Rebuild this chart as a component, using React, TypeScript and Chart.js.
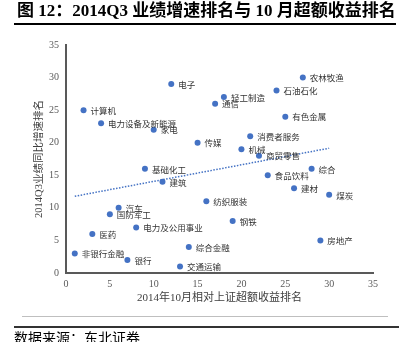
import React, { useEffect, useRef } from "react";
import { Chart, registerables } from "chart.js";

Chart.register(...registerables);

const industries = [
  "非银行金融", "计算机", "医药", "电力设备及新能源", "国防军工", "汽车", "银行", "电力及公用事业",
  "基础化工", "家电", "建筑", "电子", "交通运输", "综合金融", "传媒", "纺织服装",
  "通信", "轻工制造", "钢铁", "机械", "消费者服务", "商贸零售", "食品饮料", "石油石化",
  "有色金属", "建材", "农林牧渔", "综合", "房地产", "煤炭",
];
const excessReturnRank = [
  1, 2, 3, 4, 5, 6, 7, 8, 9, 10, 11, 12, 13, 14, 15, 16,
  17, 18, 19, 20, 21, 22, 23, 24, 25, 26, 27, 28, 29, 30,
];
const growthRank = [
  3, 25, 6, 23, 9, 10, 2, 7, 16, 22, 14, 29, 1, 4, 20, 11,
  26, 27, 8, 19, 21, 18, 15, 28, 24, 13, 30, 16, 5, 12,
];

const chartTitle = "图 12：2014Q3 业绩增速排名与 10 月超额收益排名";
const xTitle = "2014年10月相对上证超额收益排名";
const yTitle = "2014Q3业绩同比增速排名";
const sourceText = "数据来源：东北证券";
const axisMin = 0;
const axisMax = 35;
const axisStep = 5;

const BLUE = "#4472C4";
const SERIF = "'Liberation Serif', 'Noto Sans CJK SC', serif";
const CJK = "'Noto Sans CJK SC', sans-serif";

function linearFit(xs: number[], ys: number[]) {
  const n = xs.length;
  const mx = xs.reduce((a, b) => a + b, 0) / n;
  const my = ys.reduce((a, b) => a + b, 0) / n;
  let sxy = 0;
  let sxx = 0;
  for (let i = 0; i < n; i++) {
    sxy += (xs[i] - mx) * (ys[i] - my);
    sxx += (xs[i] - mx) * (xs[i] - mx);
  }
  const slope = sxy / sxx;
  return { slope, intercept: my - slope * mx };
}

const pointLabels = {
  id: "pointLabels",
  afterDatasetsDraw(chart: any) {
    const meta = chart.getDatasetMeta(0);
    const ctx = chart.ctx;
    ctx.save();
    ctx.font = `8.5px ${CJK}`;
    ctx.fillStyle = "#333333";
    ctx.textBaseline = "middle";
    ctx.textAlign = "left";
    meta.data.forEach((el: any, i: number) => {
      ctx.fillText(industries[i], el.x + 7, el.y + 0.5);
    });
    ctx.restore();
  },
};

export default function App() {
  const ref = useRef<HTMLCanvasElement | null>(null);

  useEffect(() => {
    if (!ref.current) return;
    const pts = excessReturnRank.map((x, i) => ({ x, y: growthRank[i] }));
    const fit = linearFit(excessReturnRank, growthRank);
    const xMin = Math.min(...excessReturnRank);
    const xMax = Math.max(...excessReturnRank);
    const trend = [
      { x: xMin, y: fit.intercept + fit.slope * xMin },
      { x: xMax, y: fit.intercept + fit.slope * xMax },
    ];
    const chart = new Chart(ref.current, {
      type: "scatter",
      data: {
        datasets: [
          {
            data: pts,
            backgroundColor: BLUE,
            borderColor: BLUE,
            pointRadius: 3,
            pointBorderWidth: 0,
          },
          {
            type: "line",
            data: trend,
            borderColor: BLUE,
            borderWidth: 1.5,
            borderDash: [1.5, 1.5],
            pointRadius: 0,
            fill: false,
          } as any,
        ],
      },
      options: {
        animation: false,
        responsive: false,
        devicePixelRatio: 1,
        layout: { padding: { top: 45, right: 26, bottom: 0, left: 0 } },
        plugins: {
          legend: { display: false },
          tooltip: { enabled: false },
        },
        scales: {
          x: {
            type: "linear",
            min: axisMin,
            max: axisMax,
            grid: { display: false, drawTicks: false },
            border: { display: true, color: "#595959", width: 2 },
            ticks: {
              stepSize: axisStep,
              padding: 5,
              color: "#595959",
              font: { family: SERIF, size: 10 },
            },
            title: {
              display: true,
              text: xTitle,
              color: "#404040",
              font: { family: SERIF, size: 11 },
              padding: { top: 0, bottom: 37 },
            },
            afterFit: (s: any) => {
              s.height = 69;
            },
          },
          y: {
            type: "linear",
            min: axisMin,
            max: axisMax,
            grid: { display: false, drawTicks: false },
            border: { display: true, color: "#595959", width: 2 },
            ticks: {
              stepSize: axisStep,
              padding: 7,
              color: "#595959",
              font: { family: SERIF, size: 10 },
            },
            title: {
              display: true,
              text: yTitle,
              color: "#404040",
              font: { family: SERIF, size: 10.5 },
              padding: { top: 33, bottom: 0 },
            },
            afterFit: (s: any) => {
              s.width = 66;
            },
          },
        },
      },
      plugins: [pointLabels],
    });
    return () => chart.destroy();
  }, []);

  return (
    <div
      style={{
        position: "absolute",
        left: 0,
        top: 0,
        width: 399,
        height: 342,
        overflow: "hidden",
        background: "#ffffff",
      }}
    >
      <canvas ref={ref} width={399} height={342} style={{ display: "block", position: "absolute", left: 0, top: 0 }} />
      <div
        style={{
          position: "absolute",
          left: 17,
          top: 2,
          fontFamily: SERIF,
          fontWeight: "bold",
          fontSize: 17,
          lineHeight: "17px",
          whiteSpace: "nowrap",
          color: "#000",
        }}
      >
        {chartTitle}
      </div>
      <div style={{ position: "absolute", left: 14, top: 23, width: 382, height: 1.5, background: "#000" }} />
      <div style={{ position: "absolute", left: 22, top: 316, width: 366, height: 1, background: "#bfbfbf" }} />
      <div style={{ position: "absolute", left: 14, top: 326, width: 385, height: 2, background: "#333" }} />
      <div
        style={{
          position: "absolute",
          left: 14,
          top: 331,
          fontFamily: SERIF,
          fontSize: 14,
          lineHeight: "16px",
          whiteSpace: "nowrap",
          color: "#000",
        }}
      >
        {sourceText}
      </div>
    </div>
  );
}
